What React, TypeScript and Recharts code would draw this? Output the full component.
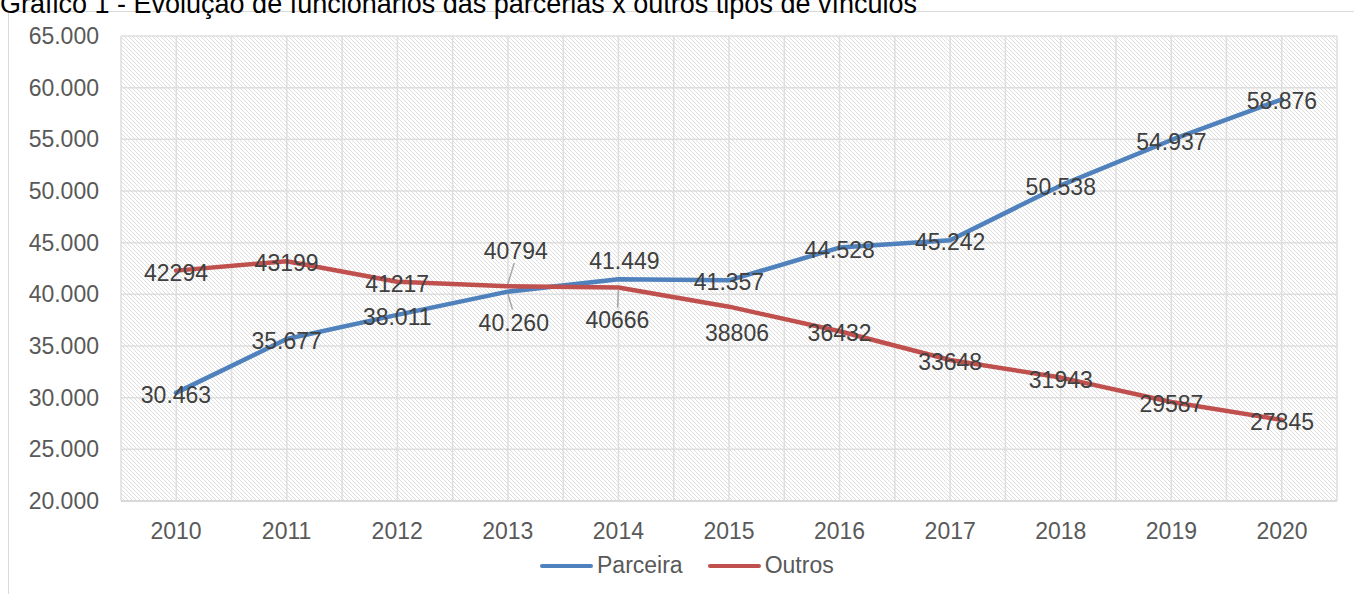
import { LineChart, Line, XAxis, YAxis, CartesianGrid, LabelList } from 'recharts';

const years = ['2010', '2011', '2012', '2013', '2014', '2015', '2016', '2017', '2018', '2019', '2020'];
const parceira = [30463, 35677, 38011, 40260, 41449, 41357, 44528, 45242, 50538, 54937, 58876];
const outros = [42294, 43199, 41217, 40794, 40666, 38806, 36432, 33648, 31943, 29587, 27845];
const yTicks = [20000, 25000, 30000, 35000, 40000, 45000, 50000, 55000, 60000, 65000];

const data = years.map((year, i) => ({ year, parceira: parceira[i], outros: outros[i] }));

const FONT = '"Liberation Sans", Arial, sans-serif';
const BLUE = '#4f81bd';
const RED = '#c0504d';

// thousand separator with a dot
const fmt = (v: number) => String(v).replace(/\B(?=(\d{3})+(?!\d))/g, '.');

// labels Excel moved off the point (dx, dy, leader line)
const moved: Record<string, Record<number, { dx: number; dy: number; leader?: boolean }>> = {
  parceira: { 3: { dx: 6, dy: 31, leader: true }, 4: { dx: 6, dy: -18 } },
  outros: { 3: { dx: 8, dy: -35, leader: true }, 4: { dx: -1, dy: 33, leader: true }, 5: { dx: 8, dy: 26 } },
};

const makeLabel = (key: string, dotted: boolean) => (props: any) => {
  const { x, y, value, index } = props;
  const m = moved[key][index];
  const dx = m ? m.dx : 0;
  const dy = m ? m.dy : 2;
  return (
    <g>
      {m && m.leader && (
        <line
          x1={x}
          y1={y + (dy > 0 ? 2 : -2)}
          x2={x + dx * 0.8}
          y2={y + dy + (dy > 0 ? -13 : 12)}
          stroke="#a6a6a6"
          strokeWidth={1.5}
        />
      )}
      <text
        x={x + dx}
        y={y + dy}
        textAnchor="middle"
        dominantBaseline="central"
        fill="#404040"
        fontSize={23}
        fontFamily={FONT}
      >
        {dotted ? fmt(value) : value}
      </text>
    </g>
  );
};

const legendItems = [
  { name: 'Parceira', color: BLUE },
  { name: 'Outros', color: RED },
];

export default function App() {
  return (
    <div style={{ position: 'absolute', left: 0, top: 0, width: 1354, height: 594, overflow: 'hidden', background: '#fff', fontFamily: FONT }}>
      <svg width={0} height={0} style={{ position: 'absolute' }}>
        <defs>
          <pattern id="hatch" patternUnits="userSpaceOnUse" width={4} height={4}>
            <rect width={4} height={4} fill="#ffffff" />
            <path d="M0,0 L4,4 M-1,3 L1,5 M3,-1 L5,1" stroke="#dadada" strokeWidth={0.9} />
          </pattern>
        </defs>
      </svg>
      <div style={{ position: 'absolute', left: 8, top: 11, width: 1400, height: 700, border: '1.5px solid #d9d9d9' }} />
      <div style={{ position: 'absolute', left: 0, top: -11, fontSize: 27, lineHeight: '30px', color: '#000', whiteSpace: 'nowrap' }}>
        Gráfico 1 - Evolução de funcionários das parcerias x outros tipos de vínculos
      </div>
      <div style={{ position: 'absolute', left: 0, top: 0 }}>
        <LineChart width={1354} height={594} data={data} margin={{ top: 36, right: 17, left: 0, bottom: 53 }}>
          <CartesianGrid
            fill="url(#hatch)"
            stroke="#dedede"
            strokeWidth={1.5}
            verticalCoordinatesGenerator={({ offset }: any) =>
              Array.from({ length: 23 }, (_, i) => offset.left + (i * offset.width) / 22)
            }
          />
          <XAxis
            dataKey="year"
            padding={{ left: 55, right: 55 }}
            tickLine={false}
            tickSize={0}
            tickMargin={22}
            height={40}
            axisLine={{ stroke: '#d9d9d9', strokeWidth: 2 }}
            tick={{ fill: '#595959', fontSize: 23, fontFamily: FONT }}
          />
          <YAxis
            domain={[20000, 65000]}
            ticks={yTicks}
            width={121}
            tickLine={false}
            tickSize={0}
            tickMargin={22}
            axisLine={false}
            tickFormatter={fmt}
            tick={{ fill: '#595959', fontSize: 23, fontFamily: FONT }}
          />
          <Line
            dataKey="parceira"
            stroke={BLUE}
            strokeWidth={4.5}
            strokeLinecap="round"
            strokeLinejoin="round"
            dot={false}
            isAnimationActive={false}
          >
            <LabelList dataKey="parceira" content={makeLabel('parceira', true)} />
          </Line>
          <Line
            dataKey="outros"
            stroke={RED}
            strokeWidth={4.5}
            strokeLinecap="round"
            strokeLinejoin="round"
            dot={false}
            isAnimationActive={false}
          >
            <LabelList dataKey="outros" content={makeLabel('outros', false)} />
          </Line>
        </LineChart>
      </div>
      <div style={{ position: 'absolute', left: 540, top: 552, display: 'flex', alignItems: 'center', fontSize: 23, color: '#595959' }}>
        {legendItems.map((it, i) => (
          <div key={it.name} style={{ display: 'flex', alignItems: 'center', marginLeft: i ? 25 : 0 }}>
            <span style={{ display: 'inline-block', width: 53, height: 4, borderRadius: 2, background: it.color, marginRight: 4 }} />
            <span>{it.name}</span>
          </div>
        ))}
      </div>
    </div>
  );
}
